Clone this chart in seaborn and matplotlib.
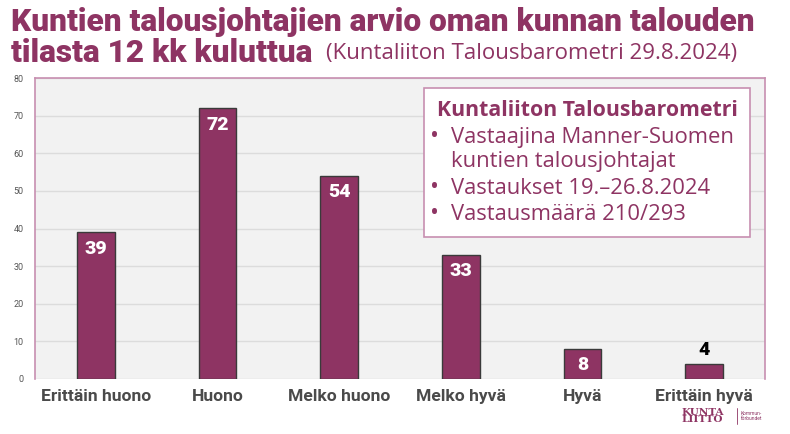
import numpy as np
import pandas as pd
import seaborn as sns
import matplotlib.pyplot as plt
from matplotlib.patches import Rectangle

categories = ["Erittäin huono", "Huono", "Melko huono", "Melko hyvä", "Hyvä", "Erittäin hyvä"]
values = [39, 72, 54, 33, 8, 4]
yticks = [0, 10, 20, 30, 40, 50, 60, 70, 80]

purple = "#8e3463"
df = pd.DataFrame({"cat": categories, "val": values})

sns.set_theme(style="white")
plt.rcParams['font.family'] = ['Roboto', 'DejaVu Sans']
body = ['Open Sans', 'DejaVu Sans']

fig = plt.figure(figsize=(7.9, 4.34), dpi=100)
ax = fig.add_axes([35 / 790, 1 - 379 / 434, 730 / 790, 301 / 434])
ax.set_facecolor("#f2f2f2")

sns.barplot(data=df, x="cat", y="val", color=purple, width=0.31,
            edgecolor="#3a3a3a", linewidth=1.0, saturation=1, ax=ax, zorder=3)

ax.set_ylim(0, 80)
ax.set_yticks(yticks)
ax.set_xlim(-0.5, len(categories) - 0.5)
ax.yaxis.grid(True, color="#dcdcdc", linewidth=1, zorder=0)
ax.set_axisbelow(True)
ax.tick_params(axis="y", labelsize=6.5, colors="#555555", length=0, pad=8)
ax.tick_params(axis="x", length=0, pad=7)
for lab in ax.get_xticklabels():
    lab.set_fontsize(12.6)
    lab.set_fontweight("bold")
    lab.set_color("#4a4a4a")
ax.set_xlabel("")
ax.set_ylabel("")
for s in ["left", "top", "right"]:
    ax.spines[s].set_color("#c78fb0")
    ax.spines[s].set_linewidth(1.2)
ax.spines["bottom"].set_visible(False)

# value labels
for i, v in enumerate(values):
    if v >= 8:
        ax.text(i, v - 2.0, str(v), ha="center", va="top", color="white",
                fontsize=14, fontweight="black", zorder=5)
    else:
        ax.text(i, v + 1.2, str(v), ha="center", va="bottom", color="black",
                fontsize=14, fontweight="black", zorder=5)

# info box
box = Rectangle((424 / 790, 1 - 237 / 434), 326 / 790, 149 / 434, transform=fig.transFigure,
                facecolor="white", edgecolor="#c78fb0", linewidth=1.2, zorder=10)
fig.patches.append(box)
fig.text(437 / 790, 1 - 111 / 434, "Kuntaliiton Talousbarometri", color=purple,
         fontsize=15.3, fontweight="bold", family=body, va="center", ha="left", zorder=11)
lines = [("•", "Vastaajina Manner-Suomen", 137), ("", "kuntien talousjohtajat", 162),
         ("•", "Vastaukset 19.–26.8.2024", 188), ("•", "Vastausmäärä 210/293", 214)]
for bullet, txt, y in lines:
    if bullet:
        fig.text(430 / 790, 1 - y / 434, bullet, color=purple, fontsize=17, family=body,
                 va="center", ha="left", zorder=11)
    fig.text(451 / 790, 1 - y / 434, txt, color=purple, fontsize=15.8, family=body,
             va="center", ha="left", zorder=11)

# title
fig.text(11 / 790, 1 - 22 / 434, "Kuntien talousjohtajien arvio oman kunnan talouden",
         color=purple, fontsize=22.8, fontweight="black", va="center", ha="left")
fig.text(11 / 790, 1 - 53 / 434, "tilasta 12 kk kuluttua", color=purple,
         fontsize=22.8, fontweight="black", va="center", ha="left")
fig.text(326 / 790, 1 - 54 / 434, "(Kuntaliiton Talousbarometri 29.8.2024)", color=purple,
         fontsize=16, fontweight="normal", family=body, va="center", ha="left")

# logo
fig.text(681 / 790, 1 - 416 / 434, "KUNTA\nLIITTO", color=purple, fontsize=7.5,
         family="DejaVu Serif", fontweight="bold", linespacing=0.8, va="center", ha="left")
fig.lines.append(plt.Line2D([737 / 790, 737 / 790], [1 - 424 / 434, 1 - 408 / 434],
                            transform=fig.transFigure, color=purple, linewidth=0.6))
fig.text(741 / 790, 1 - 416 / 434, "Kommun-\nförbundet", color=purple, fontsize=3.5,
         va="center", ha="left")

fig.savefig("out.png", dpi=100)
